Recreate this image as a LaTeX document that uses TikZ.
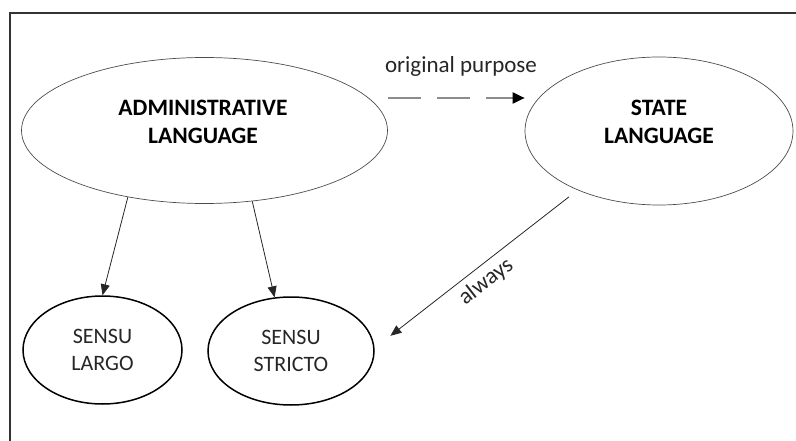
\documentclass[tikz,border=0pt]{standalone}
\usepackage{fontspec}
\setmainfont{Carlito}
\usetikzlibrary{shapes.geometric,arrows.meta}

\tikzset{
  bigoval/.style={ellipse, draw=black!70, line width=0.7pt, inner sep=0pt},
  smalloval/.style={ellipse, draw=black, line width=1.5pt, inner sep=0pt},
  bigtext/.style={font=\fontsize{23.5}{28}\selectfont\bfseries, align=center, inner sep=0pt},
  smalltext/.style={font=\fontsize{22}{27}\selectfont, align=center, inner sep=0pt, text=black!85},
  link/.style={draw=black!85, line width=0.8pt, -{Triangle[length=11pt,width=9pt]}},
  dashlink/.style={draw=black!45, line width=2pt, dash pattern=on 33pt off 16pt,
    -{Triangle[length=12pt,width=11pt,color=black]}},
  lbl/.style={font=\fontsize{23}{26}\selectfont, text=black!85},
  frameline/.style={draw=black!80, line width=2pt}
}

\begin{document}
\begin{tikzpicture}[x=1pt, y=-1pt]
  \useasboundingbox (0,0) rectangle (796,441);

  % outer frame (left and top edges)
  \draw[frameline] (10,441) -- (10,13) -- (796,13);

  % main ovals
  \node[bigoval, minimum width=366pt, minimum height=146pt] (adm) at (204.5,130.5) {};
  \node[bigtext] (admtext) at (203,122) {ADMINISTRATIVE\\LANGUAGE};

  \node[bigoval, minimum width=268pt, minimum height=148pt] (st) at (659,131) {};
  \node[bigtext] (sttext) at (659,122) {STATE\\LANGUAGE};

  % lower ovals
  \node[smalloval, minimum width=159pt, minimum height=108pt] (sl) at (102.5,350) {};
  \node[smalltext] (sltext) at (102.5,350) {SENSU\\LARGO};

  \node[smalloval, minimum width=166pt, minimum height=108pt] (ss) at (291,351) {};
  \node[smalltext] (sstext) at (291,351) {SENSU\\STRICTO};

  % connectors
  \draw[link] (adm.221.8) -- (sl.north);
  \draw[link] (adm.304.7) -- (ss.107);
  \draw[dashlink] (adm.east |- 0,98) -- (st.west |- 0,98);
  \node[lbl] (purpose) at (461,66) {original purpose};
  \draw[link, shorten <=11pt, shorten >=20pt] (st.216.6) -- (ss.2)
    node[midway, sloped, below=6pt, lbl, inner sep=0pt] (always) {always};
\end{tikzpicture}
\end{document}
